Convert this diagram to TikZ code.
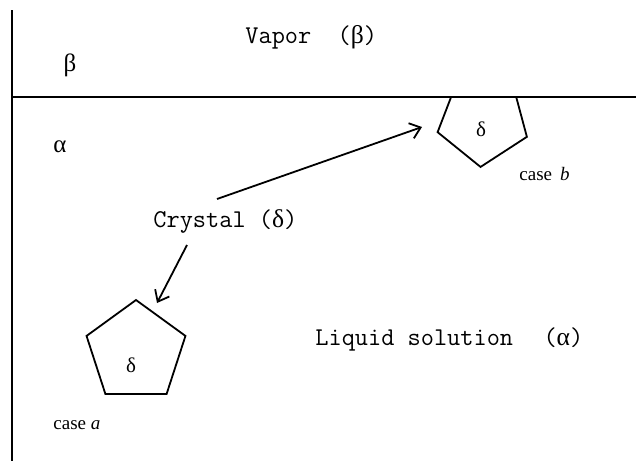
\documentclass[tikz,border=0pt]{standalone}
\usepackage{fontspec}
\setmainfont{Liberation Serif}
\usepackage{tikz}
\usetikzlibrary{shapes.geometric,arrows.meta,calc}

\begin{document}
\begin{tikzpicture}[
  x=0.5pt, y=-0.5pt,
  phase/.style={inner sep=0pt, anchor=base west,
                font=\ttfamily\fontsize{12.8}{14}\selectfont},
  greek/.style={inner sep=0pt, font=\fontsize{12.5}{14}\selectfont},
  note/.style={inner sep=0pt, anchor=base west, font=\fontsize{9.5}{11}\selectfont},
  crys/.style={draw, regular polygon, regular polygon sides=5,
               inner sep=0pt, outer sep=0pt, line width=0.9pt},
  bound/.style={draw, line width=1pt},
  arr/.style={draw, line width=0.9pt, -{Straight Barb[length=5pt,width=8pt]}}
]
\useasboundingbox (0,0) rectangle (636,461);

% Crystal in the interface (clipped by the surface)
\begin{scope}
  \clip (12,97) rectangle (636,461);
  \node[crys, minimum size=47pt, shape border rotate=177] (pb) at (483,120) {};
\end{scope}

% Crystal in the bulk liquid
\node[crys, minimum size=52pt] (pa) at (136,352) {};

% Phase boundaries
\coordinate (ltop) at (12,10);
\coordinate (lbot) at (12,461);
\coordinate (sl) at (12,97);
\coordinate (sr) at (636,97);
\draw[bound] (ltop) -- (lbot);
\draw[bound] (sl) -- (sr);

% Labels
\node[phase] (vapor)   at (245,43)  {Vapor~~(\rmfamily β\ttfamily)};
\node[phase] (liquid)  at (315,345) {Liquid solution~~\hspace{2pt}(\rmfamily α\ttfamily)};
\node[phase] (crystal) at (153,227) {Crystal (\rmfamily δ\ttfamily)};
\node[greek] (beta)  at (70,65)  {β};
\node[greek] (alpha) at (60,147) {α};
\node[note, font=\fontsize{10.5}{12}\selectfont, anchor=center] (da) at (131,365) {δ};
\node[note, font=\fontsize{10.5}{12}\selectfont, anchor=center] (db) at (481,129) {δ};
\node[note] (casea) at (53,429) {case \textit{a}};
\node[note] (caseb) at (519,180) {case~\,\textit{b}};

% Arrows
\coordinate (tipa) at (157,303);
\coordinate (tipb) at (422,127);
\draw[arr] ($(crystal.base west)+(64,-28)$) -- (tipb);
\draw[arr] ($(crystal.base west)+(34,18)$) -- (tipa);

\end{tikzpicture}
\end{document}
